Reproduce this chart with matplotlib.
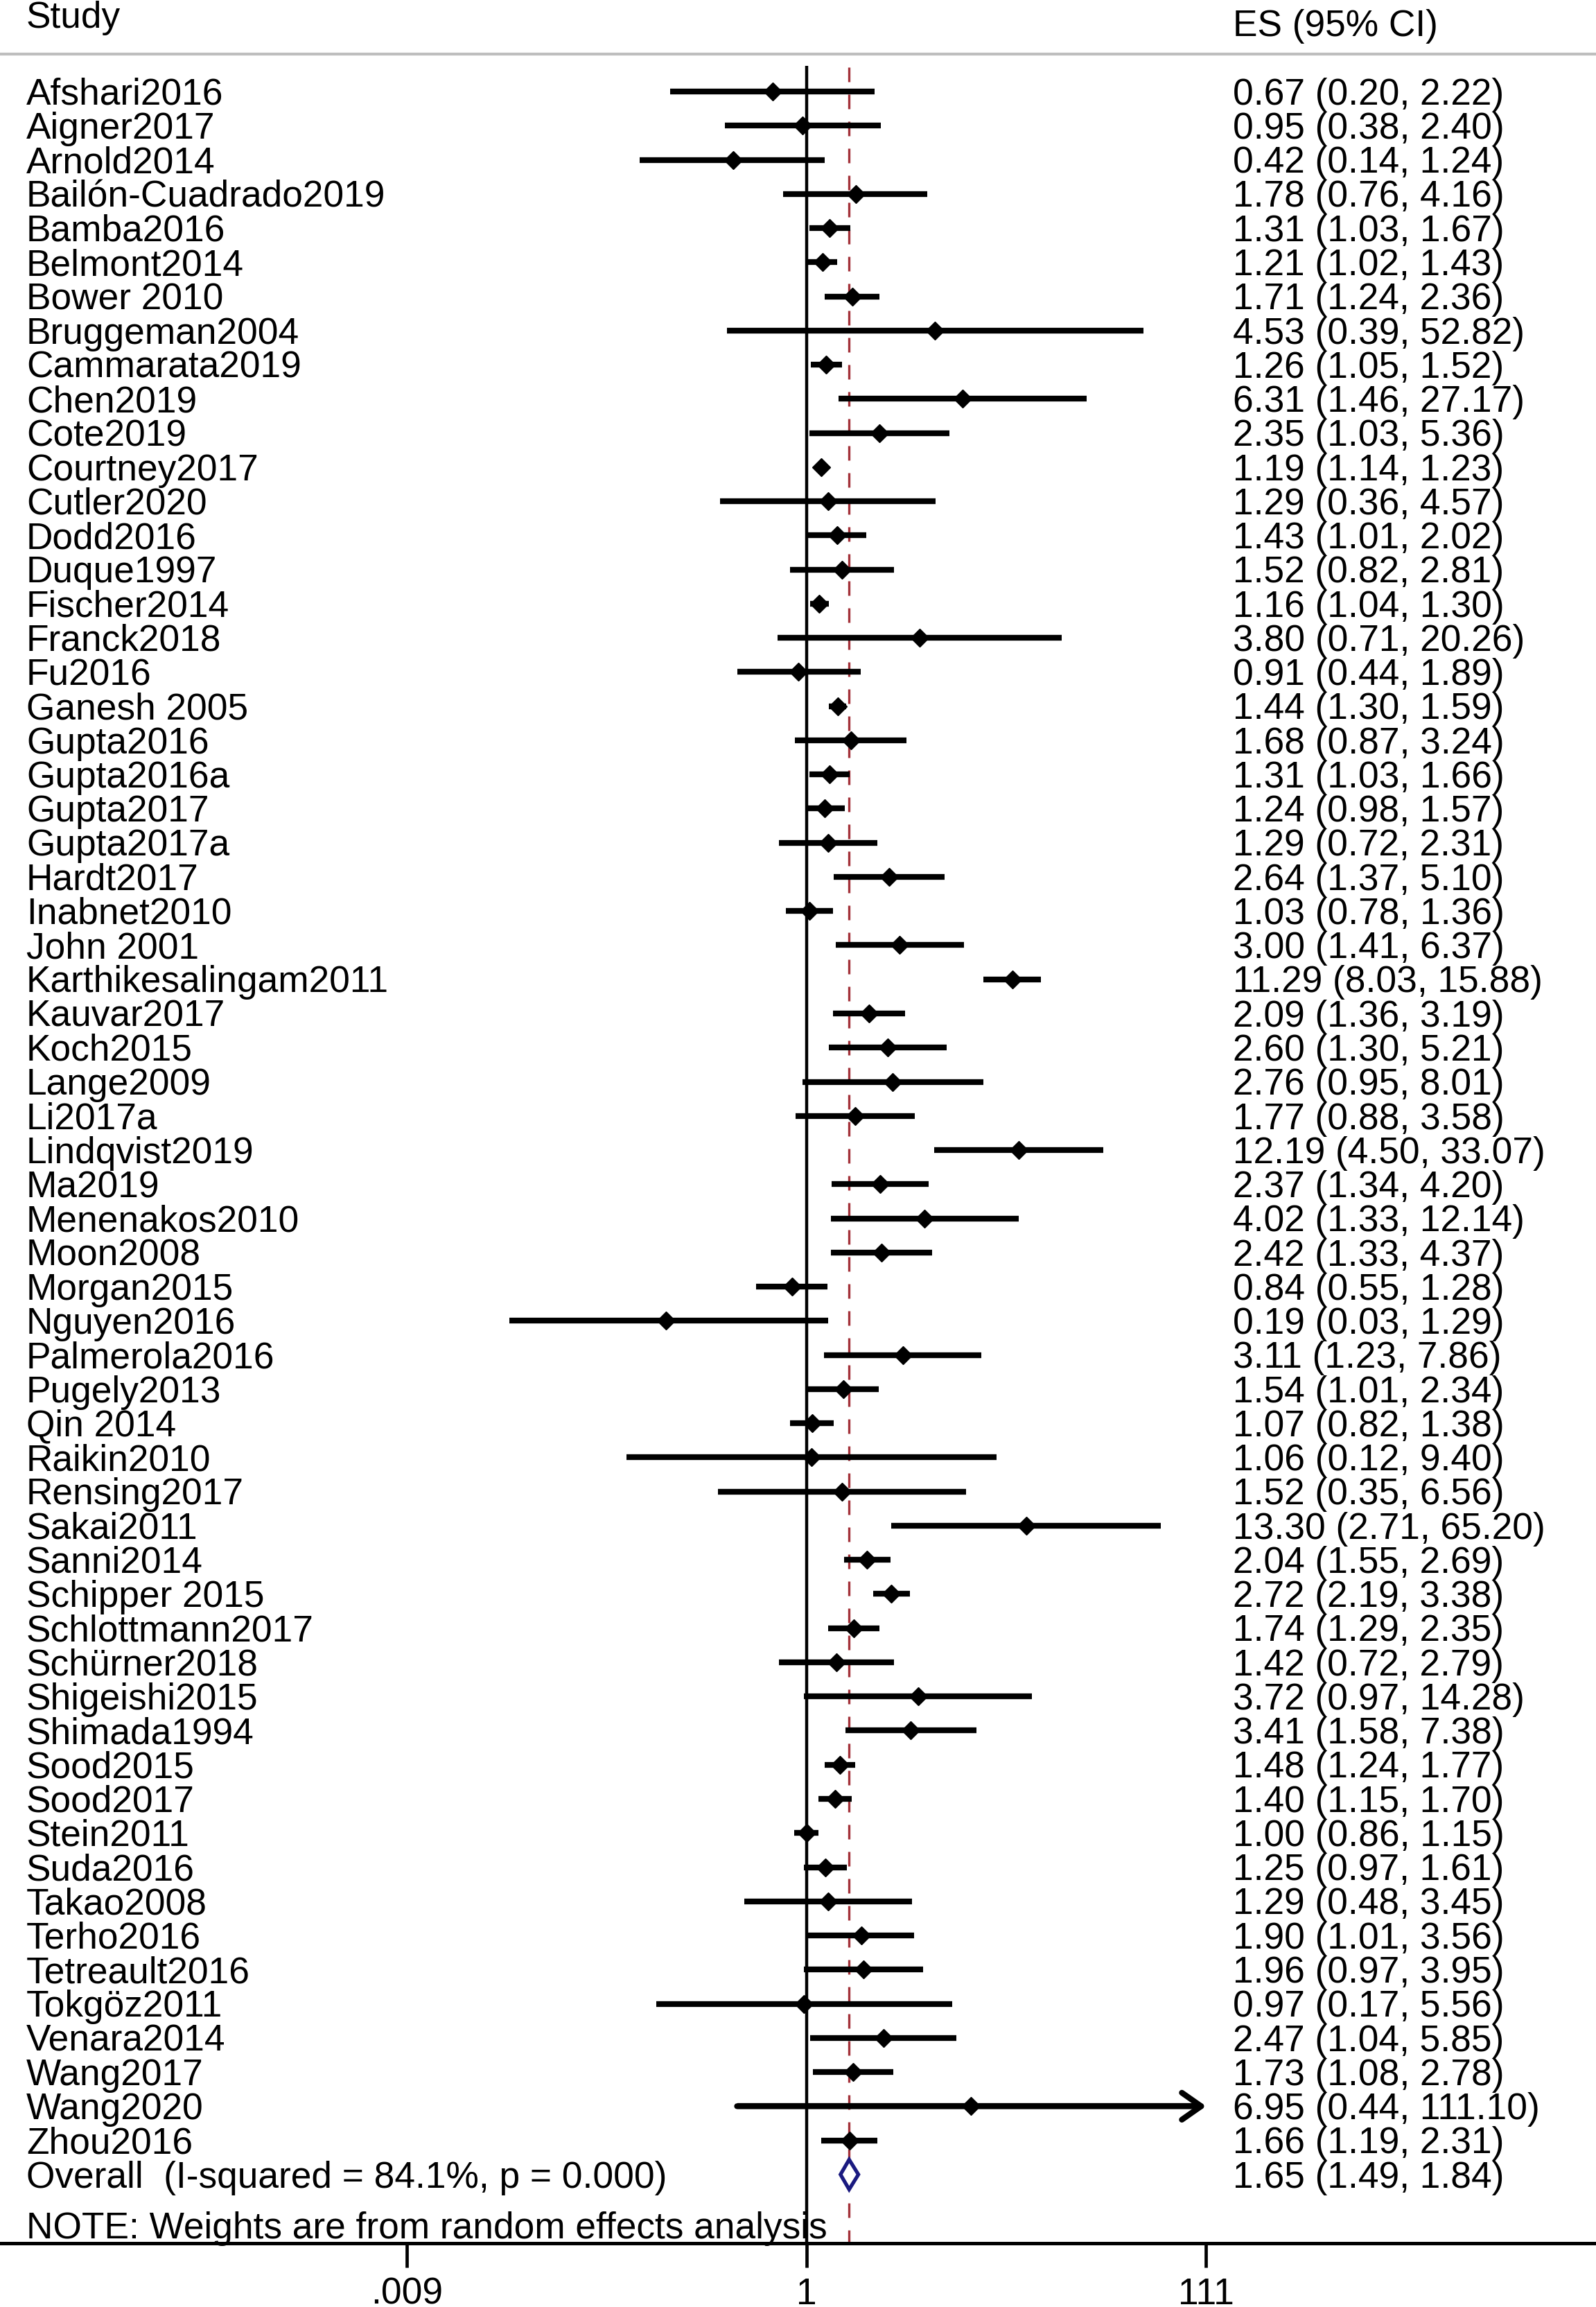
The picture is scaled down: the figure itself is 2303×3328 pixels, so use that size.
import numpy as np
import matplotlib
matplotlib.use("Agg")
import matplotlib.pyplot as plt
from matplotlib.patches import Polygon

plt.rcParams['font.family'] = ['Liberation Sans', 'DejaVu Sans']

# study labels and effect sizes (ES with 95% CI)
studies = ["Afshari2016", "Aigner2017", "Arnold2014", "Bailón-Cuadrado2019", "Bamba2016",
           "Belmont2014", "Bower 2010", "Bruggeman2004", "Cammarata2019", "Chen2019",
           "Cote2019", "Courtney2017", "Cutler2020", "Dodd2016", "Duque1997",
           "Fischer2014", "Franck2018", "Fu2016", "Ganesh 2005", "Gupta2016",
           "Gupta2016a", "Gupta2017", "Gupta2017a", "Hardt2017", "Inabnet2010",
           "John 2001", "Karthikesalingam2011", "Kauvar2017", "Koch2015", "Lange2009",
           "Li2017a", "Lindqvist2019", "Ma2019", "Menenakos2010", "Moon2008",
           "Morgan2015", "Nguyen2016", "Palmerola2016", "Pugely2013", "Qin 2014",
           "Raikin2010", "Rensing2017", "Sakai2011", "Sanni2014", "Schipper 2015",
           "Schlottmann2017", "Schürner2018", "Shigeishi2015", "Shimada1994", "Sood2015",
           "Sood2017", "Stein2011", "Suda2016", "Takao2008", "Terho2016",
           "Tetreault2016", "Tokgöz2011", "Venara2014", "Wang2017", "Wang2020",
           "Zhou2016"]
es = [0.67, 0.95, 0.42, 1.78, 1.31, 1.21, 1.71, 4.53, 1.26, 6.31,
      2.35, 1.19, 1.29, 1.43, 1.52, 1.16, 3.80, 0.91, 1.44, 1.68,
      1.31, 1.24, 1.29, 2.64, 1.03, 3.00, 11.29, 2.09, 2.60, 2.76,
      1.77, 12.19, 2.37, 4.02, 2.42, 0.84, 0.19, 3.11, 1.54, 1.07,
      1.06, 1.52, 13.30, 2.04, 2.72, 1.74, 1.42, 3.72, 3.41, 1.48,
      1.40, 1.00, 1.25, 1.29, 1.90, 1.96, 0.97, 2.47, 1.73, 6.95,
      1.66]
lo = [0.20, 0.38, 0.14, 0.76, 1.03, 1.02, 1.24, 0.39, 1.05, 1.46,
      1.03, 1.14, 0.36, 1.01, 0.82, 1.04, 0.71, 0.44, 1.30, 0.87,
      1.03, 0.98, 0.72, 1.37, 0.78, 1.41, 8.03, 1.36, 1.30, 0.95,
      0.88, 4.50, 1.34, 1.33, 1.33, 0.55, 0.03, 1.23, 1.01, 0.82,
      0.12, 0.35, 2.71, 1.55, 2.19, 1.29, 0.72, 0.97, 1.58, 1.24,
      1.15, 0.86, 0.97, 0.48, 1.01, 0.97, 0.17, 1.04, 1.08, 0.44,
      1.19]
hi = [2.22, 2.40, 1.24, 4.16, 1.67, 1.43, 2.36, 52.82, 1.52, 27.17,
      5.36, 1.23, 4.57, 2.02, 2.81, 1.30, 20.26, 1.89, 1.59, 3.24,
      1.66, 1.57, 2.31, 5.10, 1.36, 6.37, 15.88, 3.19, 5.21, 8.01,
      3.58, 33.07, 4.20, 12.14, 4.37, 1.28, 1.29, 7.86, 2.34, 1.38,
      9.40, 6.56, 65.20, 2.69, 3.38, 2.35, 2.79, 14.28, 7.38, 1.77,
      1.70, 1.15, 1.61, 3.45, 3.56, 3.95, 5.56, 5.85, 2.78, 111.10,
      2.31]
overall_label = "Overall  (I-squared = 84.1%, p = 0.000)"
overall_es, overall_lo, overall_hi = 1.65, 1.49, 1.84
xticks = [0.009, 1, 111]
xticklabels = [".009", "1", "111"]
note = "NOTE: Weights are from random effects analysis"

W, H = 2303, 3328
fig = plt.figure(figsize=(W / 100, H / 100), dpi=100)
axis_px = 3236
ax = fig.add_axes([0, (H - axis_px) / H, 1, axis_px / H])

row0, dy = 132, 49.26          # pixel centre of first row, row spacing
x1, ppl = 1164, 122.4          # pixel of ES=1, pixels per ln unit
ax.set_xscale('log')
ax.set_xlim(np.exp(-x1 / ppl), np.exp((W - x1) / ppl))
ybot = (axis_px - row0) / dy
ax.set_ylim(ybot, -row0 / dy)

n = len(studies)
rows = np.arange(n)
xmin_cut, xmax_cut = xticks[0], xticks[-1]
lo_a = np.array(lo)
hi_a = np.array(hi)
clip_hi = hi_a > xmax_cut

fs = 38.3
base = 0.38                    # baseline offset (rows) so caps are centred on the row
tx_left = 38 / W
tx_es = 1779 / W
trans = ax.get_yaxis_transform()

# CI lines
for i in range(n):
    l = max(lo_a[i], xmin_cut)
    h = min(hi_a[i], xmax_cut)
    if clip_hi[i]:
        ax.hlines(i, l, h * 0.93, color='black', lw=6, zorder=2)
        ax.annotate("", xy=(h, i), xytext=(l, i),
                    arrowprops=dict(arrowstyle='->,head_length=0.5,head_width=0.35',
                                    lw=6, color='black', shrinkA=0, shrinkB=0,
                                    mutation_scale=40), zorder=2)
    else:
        ax.hlines(i, l, h, color='black', lw=6, zorder=2)

ax.plot(es, rows, linestyle='none', marker='D', color='black', ms=13, zorder=4)

# overall diamond
yo = n
dh = 21.5 / dy
ax.add_patch(Polygon([(overall_lo, yo), (overall_es, yo - dh), (overall_hi, yo),
                      (overall_es, yo + dh)], closed=True, facecolor='white',
                     edgecolor='#1A1A80', lw=3.8, zorder=3))

# reference lines
ax.vlines(1, -0.75, ybot, color='black', lw=3.2, zorder=1)
ax.plot([overall_es, overall_es], [-0.72, ybot], color='#A3323A', lw=2.4,
        dashes=(6.3, 5.4), zorder=1)
ax.axhline(-1.10, color='#BEBEBE', lw=3)

# texts
ax.text(tx_left, -1.87, "Study", transform=trans, fontsize=fs, va='baseline', ha='left')
ax.text(tx_es, -1.62, "ES (95% CI)", transform=trans, fontsize=fs, va='baseline', ha='left')
for i in range(n):
    ax.text(tx_left, i + base, studies[i], transform=trans, fontsize=fs,
            va='baseline', ha='left')
    ax.text(tx_es, i + base, f"{es[i]:.2f} ({lo[i]:.2f}, {hi[i]:.2f})", transform=trans,
            fontsize=fs, va='baseline', ha='left')
ax.text(tx_left, yo + base, overall_label, transform=trans, fontsize=fs,
        va='baseline', ha='left')
ax.text(tx_es, yo + base, f"{overall_es:.2f} ({overall_lo:.2f}, {overall_hi:.2f})",
        transform=trans, fontsize=fs, va='baseline', ha='left')
ax.text(tx_left, 62.5 + base, note, transform=trans, fontsize=fs, va='baseline', ha='left')

# axes styling
for s in ['top', 'left', 'right']:
    ax.spines[s].set_visible(False)
ax.spines['bottom'].set_linewidth(3.6)
ax.set_yticks([])
ax.set_xticks(xticks)
ax.set_xticklabels(xticklabels)
ax.minorticks_off()
ax.tick_params(axis='x', direction='out', length=25, width=3.4, labelsize=fs, pad=10)

fig.savefig("out.png", dpi=100)
